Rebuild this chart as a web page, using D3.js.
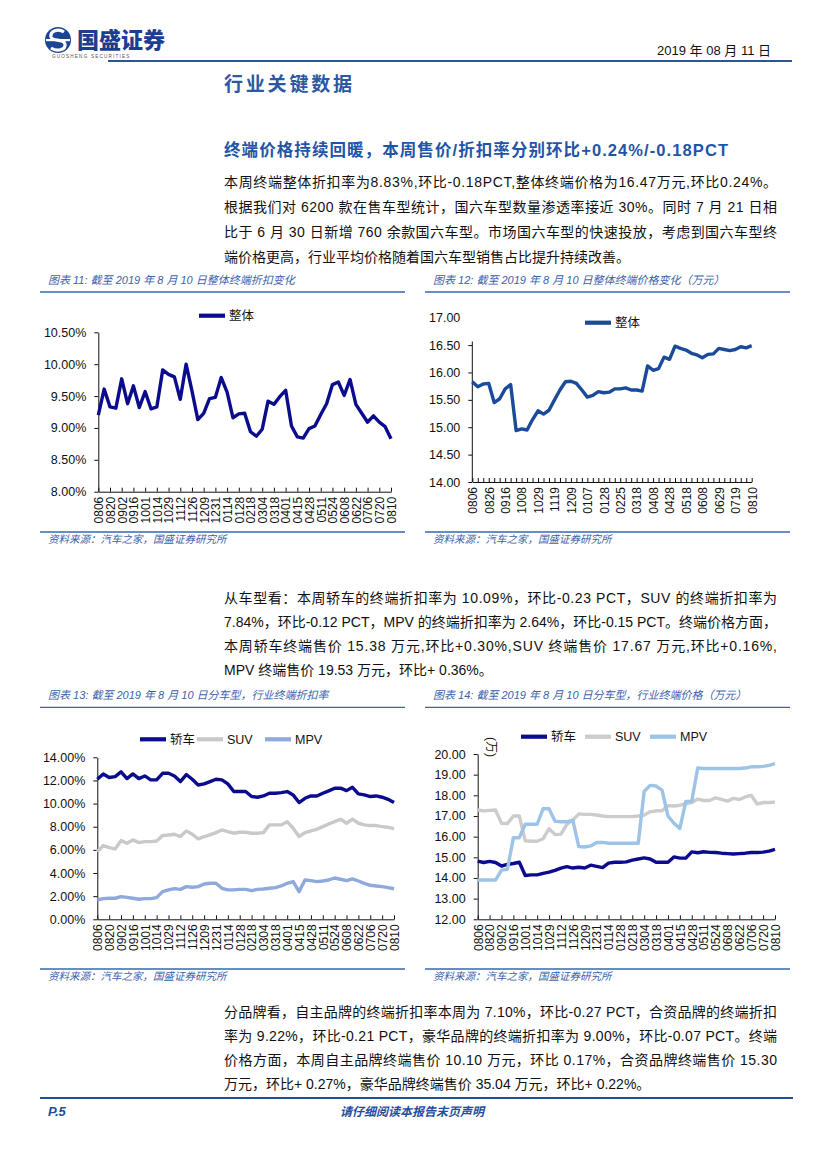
<!DOCTYPE html>
<html><head><meta charset="utf-8">
<script src="https://cdn.jsdelivr.net/npm/d3@7"></script>
<style>
html,body{margin:0;padding:0;background:#fff;}
svg{display:block;}
</style></head>
<body>
<script>
// ---------------- DATA ----------------
const cats51 = ["0806","0813","0820","0826","0902","0909","0916","0923","1001","1008","1014","1021","1029","1105","1112","1119","1126","1202","1209","1216","1231","0107","0114","0121","0128","0211","0218","0225","0304","0311","0318","0325","0401","0408","0415","0421","0428","0505","0511","0518","0524","0601","0608","0615","0622","0629","0706","0713","0720","0727","0810"];
const cats52 = ["0806","0813","0820","0826","0902","0909","0916","0923","1001","1008","1014","1021","1029","1105","1112","1119","1126","1202","1209","1216","1223","0107","0114","0121","0128","0211","0218","0225","0304","0311","0318","0325","0401","0408","0415","0421","0428","0505","0511","0518","0524","0601","0608","0615","0622","0629","0706","0713","0719","0727","0803","0810"];

// 图表11 整体终端折扣率 (%)
const discountAll = [9.20,9.61,9.33,9.31,9.77,9.38,9.66,9.32,9.57,9.30,9.33,9.91,9.84,9.80,9.45,10.00,9.58,9.13,9.23,9.46,9.48,9.79,9.56,9.16,9.22,9.23,8.94,8.87,8.98,9.42,9.37,9.49,9.59,9.03,8.86,8.84,8.99,9.03,9.21,9.38,9.68,9.72,9.51,9.76,9.37,9.23,9.09,9.19,9.09,9.02,8.83];
// 图表12 整体终端价格 (万元)
const priceAll = [15.83,15.74,15.79,15.80,15.45,15.52,15.70,15.78,14.94,14.97,14.95,15.14,15.30,15.24,15.31,15.50,15.68,15.83,15.84,15.80,15.68,15.55,15.58,15.65,15.63,15.64,15.70,15.70,15.72,15.68,15.68,15.66,16.12,16.04,16.07,16.28,16.24,16.48,16.44,16.41,16.35,16.32,16.27,16.33,16.34,16.44,16.42,16.40,16.42,16.47,16.45,16.49];
// 图表13 分车型折扣率 (%)
const discSedan = [12.10,12.56,12.25,12.33,12.74,12.16,12.56,12.16,12.39,12.05,12.05,12.62,12.62,12.39,11.90,12.51,12.10,11.61,11.70,11.90,12.10,12.05,11.70,11.04,11.04,11.04,10.61,10.55,10.66,10.89,10.89,10.95,11.04,10.75,10.09,10.46,10.66,10.66,10.89,11.10,11.33,11.33,11.12,11.41,10.84,10.75,10.61,10.66,10.55,10.37,10.09];
const discSUV = [5.85,6.37,6.20,6.08,6.80,6.57,6.86,6.63,6.71,6.71,6.77,7.23,7.29,7.35,7.15,7.64,7.35,6.95,7.15,7.29,7.49,7.72,7.58,7.44,7.52,7.52,7.44,7.44,7.49,8.16,8.16,8.16,8.44,7.87,7.15,7.49,7.64,7.78,8.01,8.24,8.44,8.65,8.30,8.65,8.30,8.16,8.10,8.10,8.01,7.95,7.84];
const discMPV = [1.67,1.79,1.82,1.82,1.96,1.90,1.82,1.73,1.79,1.79,1.87,2.39,2.54,2.65,2.59,2.82,2.77,2.82,3.05,3.11,3.11,2.68,2.54,2.54,2.59,2.59,2.48,2.59,2.62,2.68,2.74,2.88,3.11,3.26,2.39,3.40,3.34,3.26,3.31,3.40,3.57,3.46,3.34,3.49,3.31,3.11,2.94,2.88,2.82,2.74,2.64];
// 图表14 分车型终端价格 (万元)
const priceSedan = [14.82,14.75,14.80,14.75,14.58,14.66,14.70,14.76,14.12,14.15,14.15,14.22,14.28,14.37,14.48,14.55,14.48,14.52,14.48,14.62,14.56,14.50,14.72,14.76,14.76,14.78,14.86,14.92,14.97,14.92,14.76,14.76,14.76,15.02,14.96,14.96,15.26,15.22,15.27,15.24,15.23,15.20,15.18,15.16,15.18,15.20,15.23,15.23,15.25,15.30,15.38];
const priceSUV = [17.29,17.25,17.27,17.29,16.65,16.63,17.00,17.00,15.80,15.78,15.78,15.90,16.38,16.10,16.12,16.60,16.80,17.10,17.08,17.08,17.05,17.00,16.97,16.97,16.97,16.97,16.97,17.00,17.05,17.20,17.25,17.25,17.50,17.48,17.52,17.60,17.65,17.82,17.75,17.75,17.88,17.80,17.72,17.85,17.80,17.92,18.00,17.58,17.65,17.65,17.67];
const priceMPV = [13.90,13.90,13.90,13.90,14.38,14.42,15.95,15.95,16.60,16.60,16.60,17.35,17.35,16.75,16.72,16.72,16.80,15.52,15.50,15.55,15.72,15.72,15.68,15.68,15.68,15.68,15.68,15.68,18.20,18.48,18.45,18.25,17.00,16.65,16.40,17.70,17.72,19.32,19.30,19.30,19.30,19.30,19.30,19.30,19.30,19.32,19.38,19.38,19.40,19.45,19.53];

const ticks11 = [8.0,8.5,9.0,9.5,10.0,10.5];
const ticks12 = [14.0,14.5,15.0,15.5,16.0,16.5,17.0];
const ticks13 = [0,2,4,6,8,10,12,14];
const ticks14 = [12,13,14,15,16,17,18,19,20];

const para1 = [
 "本周终端整体折扣率为8.83%,环比-0.18PCT,整体终端价格为16.47万元,环比0.24%。",
 "根据我们对 6200 款在售车型统计，国六车型数量渗透率接近 30%。同时 7 月 21 日相",
 "比于 6 月 30 日新增 760 余款国六车型。市场国六车型的快速投放，考虑到国六车型终",
 "端价格更高，行业平均价格随着国六车型销售占比提升持续改善。"];
const para2 = [
 "从车型看：本周轿车的终端折扣率为  10.09%，环比-0.23  PCT，SUV  的终端折扣率为",
 "7.84%，环比-0.12 PCT，MPV 的终端折扣率为 2.64%，环比-0.15 PCT。终端价格方面，",
 "本周轿车终端售价 15.38 万元,环比+0.30%,SUV 终端售价 17.67 万元,环比+0.16%,",
 "MPV 终端售价 19.53 万元，环比+ 0.36%。"];
const para3 = [
 "分品牌看，自主品牌的终端折扣率本周为 7.10%，环比-0.27 PCT，合资品牌的终端折扣",
 "率为 9.22%，环比-0.21 PCT，豪华品牌的终端折扣率为 9.00%，环比-0.07 PCT。终端",
 "价格方面，本周自主品牌终端售价 10.10 万元，环比 0.17%，合资品牌终端售价 15.30",
 "万元，环比+ 0.27%，豪华品牌终端售价 35.04 万元，环比+ 0.22%。"];

// ---------------- DRAW ----------------
const W = 827, H = 1170;
const svg = d3.select("body").append("svg").attr("width", W).attr("height", H);
svg.append("rect").attr("width", W).attr("height", H).attr("fill", "#fff");

const CJK = "'Liberation Sans','Noto Sans CJK SC',sans-serif";
const BLUE = "#2B57A3";

// header logo
const logo = svg.append("g");
logo.append("circle").attr("cx", 58).attr("cy", 40).attr("r", 13).attr("fill", "#1D4494");
logo.append("path").attr("d", "M64,32 C58,28 50,31 51,37 C52,42 64,38 65,44 C66,50 57,52 51,48")
  .attr("fill", "none").attr("stroke", "#fff").attr("stroke-width", 3.2);
logo.append("rect").attr("x", 46).attr("y", 39).attr("width", 24).attr("height", 2.2).attr("fill", "#fff");
svg.append("text").attr("x", 77).attr("y", 48).text("国盛证券")
  .attr("font-family", "'Noto Sans CJK SC'").attr("font-weight", 900).attr("font-size", 22).attr("fill", "#1D3E8E");
svg.append("text").attr("x", 52).attr("y", 58).text("GUOSHENG SECURITIES")
  .attr("font-family", "'Liberation Sans'").attr("font-size", 4.6).attr("letter-spacing", 1.2).attr("fill", "#555");
svg.append("text").attr("x", 771).attr("y", 55).attr("text-anchor", "end").text("2019 年 08 月 11 日")
  .attr("font-family", CJK).attr("font-size", 13).attr("fill", "#111");
svg.append("line").attr("x1", 108).attr("x2", 792).attr("y1", 61).attr("y2", 61).attr("stroke", "#2A5599").attr("stroke-width", 2);

svg.append("text").attr("x", 224).attr("y", 91).text("行业关键数据")
  .attr("font-family", "'Noto Sans CJK SC'").attr("font-weight", 700).attr("font-size", 19)
  .attr("textLength", 128).attr("lengthAdjust", "spacing").attr("fill", BLUE);
svg.append("text").attr("x", 224).attr("y", 156).text("终端价格持续回暖，本周售价/折扣率分别环比+0.24%/-0.18PCT")
  .attr("font-family", CJK).attr("font-weight", 700).attr("font-size", 16.5)
  .attr("textLength", 504).attr("lengthAdjust", "spacing").attr("fill", "#1F55A8");

function paragraph(lines, x, y0, lh, width) {
  lines.forEach((t, i) => {
    const tx = svg.append("text").attr("x", x).attr("y", y0 + i * lh).text(t)
      .attr("font-family", CJK).attr("font-size", 14).attr("fill", "#111");
    if (i < lines.length - 1) tx.attr("textLength", width).attr("lengthAdjust", "spacing");
  });
}
paragraph(para1, 224, 187, 25, 553);
paragraph(para2, 224, 603, 24, 553);
paragraph(para3, 224, 1017, 24, 553);

function chartFrame(x0, x1, title, yTitle, yRule, ySrc) {
  svg.append("text").attr("x", x0 + 8).attr("y", yTitle).text(title)
    .attr("font-family", CJK).attr("font-style", "italic").attr("font-size", 11).attr("fill", "#3B62AC");
  svg.append("line").attr("x1", x0).attr("x2", x1).attr("y1", yRule).attr("y2", yRule).attr("stroke", "#3568B0").attr("stroke-width", 1.3);
  svg.append("line").attr("x1", x0).attr("x2", x1).attr("y1", ySrc).attr("y2", ySrc).attr("stroke", "#3568B0").attr("stroke-width", 1.3);
  svg.append("text").attr("x", x0 + 8).attr("y", ySrc + 11).text("资料来源：汽车之家，国盛证券研究所")
    .attr("font-family", CJK).attr("font-style", "italic").attr("font-size", 10.5).attr("fill", "#3B62AC");
}

function lineChart(o) {
  const g = svg.append("g");
  const x = d3.scalePoint().domain(o.cats).range([o.x0, o.x1]);
  const y = d3.scaleLinear().domain(o.domain).range([o.yBot, o.yTop]);
  // y axis
  const ya = g.append("g").attr("transform", `translate(${o.x0},0)`)
    .call(d3.axisLeft(y).tickValues(o.ticks).tickFormat(o.fmt).tickSizeOuter(0).tickSizeInner(4).tickPadding(8));
  ya.selectAll("text").attr("font-family", "'Liberation Sans'").attr("font-size", 12.5).attr("fill", "#111");
  ya.selectAll("line,path").attr("stroke", "#111");
  if (o.axisTop !== undefined) {
    ya.select(".domain").attr("d", `M0,${o.axisTop}V${o.yBot}`);
    ya.selectAll(".tick").filter(d => y(d) < o.axisTop).select("line").remove();
  }
  // x ticks
  const xt = g.append("g").attr("transform", `translate(0,${o.yBot})`)
    .call(d3.axisBottom(x).tickValues(o.cats.filter((d, i) => i % o.tickEvery === 0)).tickFormat("").tickSizeInner(-4).tickSizeOuter(0));
  xt.selectAll("line,path").attr("stroke", "#111");
  // x labels
  const xl = g.append("g").attr("transform", `translate(0,${o.yBot})`)
    .call(d3.axisBottom(x).tickValues(o.cats.filter((d, i) => i % o.labelEvery === 0)).tickSize(0));
  xl.select(".domain").remove();
  xl.selectAll("text").attr("transform", "rotate(-90)").attr("x", -5).attr("y", 0).attr("dy", "0.36em")
    .style("text-anchor", "end").attr("font-family", "'Liberation Sans'").attr("font-size", 12).attr("fill", "#111");
  // lines
  o.series.forEach(s => {
    g.append("path").datum(s.values)
      .attr("d", d3.line().x((d, i) => x(o.cats[i])).y(d => y(d)))
      .attr("fill", "none").attr("stroke", s.color).attr("stroke-width", s.width || 3.4).attr("stroke-linejoin", "round");
  });
  // legend
  o.series.forEach((s, k) => {
    const lx = o.legend[k];
    g.append("line").attr("x1", lx).attr("x2", lx + 26).attr("y1", o.legendY).attr("y2", o.legendY)
      .attr("stroke", s.color).attr("stroke-width", 4.2);
    g.append("text").attr("x", lx + 30).attr("y", o.legendY + 4.5).text(s.name)
      .attr("font-family", CJK).attr("font-size", 12.5).attr("fill", "#111");
  });
  return {g, x, y};
}

// 图表11
chartFrame(40, 405, "图表 11: 截至 2019 年 8 月 10 日整体终端折扣变化", 284, 292, 532);
lineChart({cats: cats51, x0: 98.3, x1: 391, yTop: 332.3, yBot: 491.7, domain: [8, 10.5], ticks: ticks11,
  fmt: d => d3.format(".2f")(d) + "%", tickEvery: 2, labelEvery: 2,
  series: [{name: "整体", values: discountAll, color: "#0B0B8E"}], legend: [199], legendY: 315.7});

// 图表12
chartFrame(425, 790, "图表 12: 截至 2019 年 8 月 10 日整体终端价格变化（万元）", 284, 292, 532);
lineChart({cats: cats52, x0: 472.3, x1: 751.7, yTop: 317.7, yBot: 482, domain: [14, 17], ticks: ticks12,
  fmt: d3.format(".2f"), tickEvery: 1, labelEvery: 3, axisTop: 341.5,
  series: [{name: "整体", values: priceAll, color: "#1A4B9B"}], legend: [585], legendY: 322.7});

// 图表13
chartFrame(40, 405, "图表 13: 截至 2019 年 8 月 10 日分车型，行业终端折扣率", 699, 707.3, 969);
lineChart({cats: cats51, x0: 97.3, x1: 394, yTop: 757.3, yBot: 919.3, domain: [0, 14], ticks: ticks13,
  fmt: d => d3.format(".2f")(d) + "%", tickEvery: 2, labelEvery: 2,
  series: [
    {name: "轿车", values: discSedan, color: "#0B0B8E"},
    {name: "SUV", values: discSUV, color: "#C9C9C9"},
    {name: "MPV", values: discMPV, color: "#8EA9DB"}],
  legend: [140, 197, 265], legendY: 739.3});

// 图表14
chartFrame(425, 790, "图表 14: 截至 2019 年 8 月 10 日分车型，行业终端价格（万元）", 699, 707.3, 969);
lineChart({cats: cats51, x0: 477.7, x1: 775, yTop: 754, yBot: 919.3, domain: [12, 20], ticks: ticks14,
  fmt: d3.format(".2f"), tickEvery: 2, labelEvery: 2,
  series: [
    {name: "轿车", values: priceSedan, color: "#0B0B8E"},
    {name: "SUV", values: priceSUV, color: "#CCCCCC"},
    {name: "MPV", values: priceMPV, color: "#9DC3E6"}],
  legend: [521, 585, 650], legendY: 736.7});
svg.append("text").attr("transform", "translate(487,737) rotate(90)").text("(万)")
  .attr("font-family", CJK).attr("font-size", 12).attr("fill", "#111");

// footer
svg.append("line").attr("x1", 40).attr("x2", 793).attr("y1", 1098).attr("y2", 1098).attr("stroke", "#1F4E9D").attr("stroke-width", 2.2);
svg.append("text").attr("x", 48).attr("y", 1116).text("P.5")
  .attr("font-family", "'Liberation Sans'").attr("font-style", "italic").attr("font-weight", 700).attr("font-size", 13).attr("fill", "#1F4E9D");
svg.append("text").attr("x", 412).attr("y", 1116).attr("text-anchor", "middle").text("请仔细阅读本报告末页声明")
  .attr("font-family", CJK).attr("font-style", "italic").attr("font-weight", 700).attr("font-size", 12).attr("fill", "#1F4E9D");
</script>
</body></html>
